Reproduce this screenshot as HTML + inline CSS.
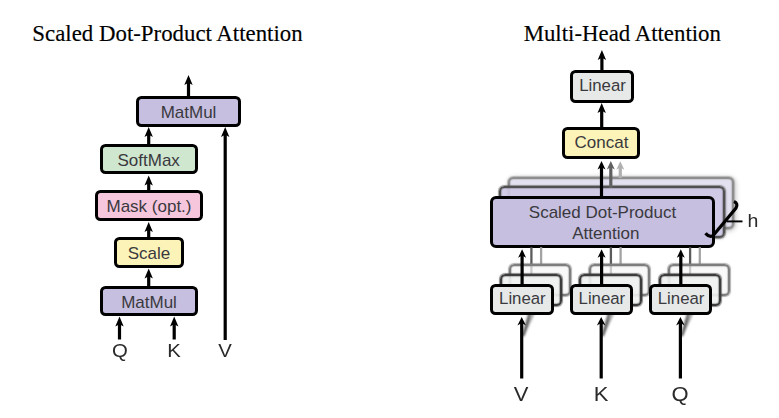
<!DOCTYPE html>
<html><head><meta charset="utf-8"><style>
html,body{margin:0;padding:0;background:#fff;width:779px;height:418px;overflow:hidden;position:relative}
</style></head><body>
<div style="position:absolute;left:-132.50px;width:600px;text-align:center;top:23.36px;font-family:'Liberation Serif',serif;font-size:22.85px;line-height:22.85px;color:#000;white-space:nowrap;-webkit-text-stroke:0.15px #000;">Scaled Dot-Product Attention</div>
<div style="position:absolute;left:322.30px;width:600px;text-align:center;top:22.86px;font-family:'Liberation Serif',serif;font-size:22.85px;line-height:22.85px;color:#000;white-space:nowrap;-webkit-text-stroke:0.15px #000;">Multi-Head Attention</div>
<div style="position:absolute;left:136px;top:95.8px;width:105.00px;height:31.00px;box-sizing:border-box;border:3.2px solid #000;border-radius:5.5px;background:#c6bfe0;"></div>
<div style="position:absolute;left:-111.50px;width:600px;text-align:center;top:103.61px;font-family:'Liberation Sans',sans-serif;font-size:17px;line-height:17px;color:#3a393e;white-space:nowrap;">MatMul</div>
<div style="position:absolute;left:100px;top:144.0px;width:97.50px;height:30.40px;box-sizing:border-box;border:3.2px solid #000;border-radius:5.5px;background:#cfe6cf;"></div>
<div style="position:absolute;left:-151.30px;width:600px;text-align:center;top:151.91px;font-family:'Liberation Sans',sans-serif;font-size:17px;line-height:17px;color:#3a393e;white-space:nowrap;">SoftMax</div>
<div style="position:absolute;left:95.3px;top:190.3px;width:107.40px;height:31.10px;box-sizing:border-box;border:3.2px solid #000;border-radius:5.5px;background:#f5c6dc;"></div>
<div style="position:absolute;left:-151.00px;width:600px;text-align:center;top:198.21px;font-family:'Liberation Sans',sans-serif;font-size:17px;line-height:17px;color:#3a393e;white-space:nowrap;">Mask (opt.)</div>
<div style="position:absolute;left:113.8px;top:237.0px;width:70.00px;height:31.40px;box-sizing:border-box;border:3.2px solid #000;border-radius:5.5px;background:#fbf3b8;"></div>
<div style="position:absolute;left:-151.10px;width:600px;text-align:center;top:245.11px;font-family:'Liberation Sans',sans-serif;font-size:17px;line-height:17px;color:#3a393e;white-space:nowrap;">Scale</div>
<div style="position:absolute;left:100px;top:285.7px;width:97.50px;height:30.60px;box-sizing:border-box;border:3.2px solid #000;border-radius:5.5px;background:#c6bfe0;"></div>
<div style="position:absolute;left:-151.00px;width:600px;text-align:center;top:293.61px;font-family:'Liberation Sans',sans-serif;font-size:17px;line-height:17px;color:#3a393e;white-space:nowrap;">MatMul</div>
<svg width="779" height="418" style="position:absolute;left:0;top:0;"><line x1="188.5" y1="82.2" x2="188.5" y2="97" stroke="#000" stroke-width="3.2"/><path d="M188.5 75 L192.7 85 L188.5 82.7 L184.3 85 Z" fill="#000"/><line x1="148.7" y1="134.2" x2="148.7" y2="145" stroke="#000" stroke-width="3.2"/><path d="M148.7 127 L152.89999999999998 137 L148.7 134.7 L144.5 137 Z" fill="#000"/><line x1="148.7" y1="182.7" x2="148.7" y2="192" stroke="#000" stroke-width="3.2"/><path d="M148.7 175.5 L152.89999999999998 185.5 L148.7 183.2 L144.5 185.5 Z" fill="#000"/><line x1="148.7" y1="229.2" x2="148.7" y2="239" stroke="#000" stroke-width="3.2"/><path d="M148.7 222 L152.89999999999998 232 L148.7 229.7 L144.5 232 Z" fill="#000"/><line x1="148.7" y1="275.7" x2="148.7" y2="287" stroke="#000" stroke-width="3.2"/><path d="M148.7 268.5 L152.89999999999998 278.5 L148.7 276.2 L144.5 278.5 Z" fill="#000"/><line x1="119.5" y1="323.7" x2="119.5" y2="339.5" stroke="#000" stroke-width="3.2"/><path d="M119.5 316.5 L123.7 326.5 L119.5 324.2 L115.3 326.5 Z" fill="#000"/><line x1="174.2" y1="323.7" x2="174.2" y2="339.5" stroke="#000" stroke-width="3.2"/><path d="M174.2 316.5 L178.39999999999998 326.5 L174.2 324.2 L170.0 326.5 Z" fill="#000"/><line x1="225.2" y1="134.2" x2="225.2" y2="340" stroke="#000" stroke-width="3.2"/><path d="M225.2 127 L229.39999999999998 137 L225.2 134.7 L221.0 137 Z" fill="#000"/></svg>
<div style="position:absolute;left:-180.20px;width:600px;text-align:center;top:341.84px;font-family:'Liberation Sans',sans-serif;font-size:18.5px;line-height:18.5px;color:#3a393e;white-space:nowrap;color:#2a2a2a;transform:scaleX(1.1);">Q</div>
<div style="position:absolute;left:-125.60px;width:600px;text-align:center;top:341.84px;font-family:'Liberation Sans',sans-serif;font-size:18.5px;line-height:18.5px;color:#3a393e;white-space:nowrap;color:#2a2a2a;transform:scaleX(1.1);">K</div>
<div style="position:absolute;left:-74.70px;width:600px;text-align:center;top:341.84px;font-family:'Liberation Sans',sans-serif;font-size:18.5px;line-height:18.5px;color:#3a393e;white-space:nowrap;color:#2a2a2a;transform:scaleX(1.1);">V</div>
<div style="position:absolute;left:569.7px;top:70.2px;width:64.30px;height:33.10px;box-sizing:border-box;border:3.2px solid #000;border-radius:5.5px;background:#e6e9e8;"></div>
<div style="position:absolute;left:302.50px;width:600px;text-align:center;top:78.28px;font-family:'Liberation Sans',sans-serif;font-size:16.8px;line-height:16.8px;color:#3a393e;white-space:nowrap;">Linear</div>
<div style="position:absolute;left:562.4px;top:127.3px;width:77.80px;height:32.00px;box-sizing:border-box;border:3.2px solid #000;border-radius:5.5px;background:#fbf3b8;"></div>
<div style="position:absolute;left:301.50px;width:600px;text-align:center;top:134.41px;font-family:'Liberation Sans',sans-serif;font-size:17px;line-height:17px;color:#3a393e;white-space:nowrap;">Concat</div>
<svg width="779" height="418" style="position:absolute;left:0;top:0;"><line x1="601.9" y1="57.2" x2="601.9" y2="71" stroke="#000" stroke-width="3.2"/><path d="M601.9 50 L606.1 60 L601.9 57.7 L597.6999999999999 60 Z" fill="#000"/></svg>
<svg width="779" height="418" style="position:absolute;left:0;top:0;"><line x1="601.7" y1="110.2" x2="601.7" y2="128" stroke="#000" stroke-width="3.2"/><path d="M601.7 103 L605.9000000000001 113 L601.7 110.7 L597.5 113 Z" fill="#000"/></svg>
<div style="position:absolute;left:508px;top:176.8px;width:226.2px;height:52.2px;border-radius:6px;box-shadow:1px 1px 5px 1px rgba(0,0,0,.22);"></div>
<div style="position:absolute;left:508.00px;top:176.80px;width:226.20px;height:52.20px;box-sizing:border-box;border:2.2px solid #8e8e8e;border-radius:5.5px;background:#e3e0ef;box-shadow:0 0 1px 0.6px rgba(142,142,142,0.55), inset 0 0 1px 0.6px rgba(142,142,142,0.55);"></div>
<svg width="779" height="418" style="position:absolute;left:0;top:0;"><line x1="620.3" y1="167.0" x2="620.3" y2="178" stroke="#b0b0b0" stroke-width="3.2"/><path d="M620.3 161.3 L624.3 169.8 L620.3 167.5 L616.3 169.8 Z" fill="#b0b0b0"/></svg>
<div style="position:absolute;left:498.8px;top:185.9px;width:226.2px;height:51.7px;border-radius:6px;box-shadow:1px 1px 3px rgba(0,0,0,.2);"></div>
<div style="position:absolute;left:498.80px;top:185.90px;width:226.20px;height:51.70px;box-sizing:border-box;border:2.4px solid #505050;border-radius:5.5px;background:rgba(206,200,229,0.9);box-shadow:0 0 1px 0.6px rgba(80,80,80,0.55), inset 0 0 1px 0.6px rgba(80,80,80,0.55);"></div>
<svg width="779" height="418" style="position:absolute;left:0;top:0;"><line x1="610.8" y1="166.7" x2="610.8" y2="188" stroke="#606060" stroke-width="3.2"/><path d="M610.8 161 L614.8 169.5 L610.8 167.2 L606.8 169.5 Z" fill="#606060"/></svg>
<div style="position:absolute;left:489.6px;top:195.8px;width:225.60px;height:52.10px;box-sizing:border-box;border:3.2px solid #000;border-radius:6px;background:#c6bfe0;"></div>
<svg width="779" height="418" style="position:absolute;left:0;top:0;"><line x1="601.5" y1="166.7" x2="601.5" y2="197" stroke="#000" stroke-width="3.2"/><path d="M601.5 161 L605.5 169.5 L601.5 167.2 L597.5 169.5 Z" fill="#000"/></svg>
<div style="position:absolute;left:302.50px;width:600px;text-align:center;top:203.61px;font-family:'Liberation Sans',sans-serif;font-size:17px;line-height:17px;color:#3a393e;white-space:nowrap;">Scaled Dot-Product</div>
<div style="position:absolute;left:305.80px;width:600px;text-align:center;top:224.61px;font-family:'Liberation Sans',sans-serif;font-size:17px;line-height:17px;color:#3a393e;white-space:nowrap;">Attention</div>
<svg width="779" height="418" style="position:absolute;left:0;top:0;opacity:0.9;"><line x1="541.1" y1="247" x2="541.1" y2="266" stroke="#9a9a9a" stroke-width="2.3"/><line x1="531.4" y1="247" x2="531.4" y2="275" stroke="#4a4a4a" stroke-width="2.3"/></svg>
<div style="position:absolute;left:509.40px;top:264.30px;width:61.50px;height:31.90px;box-sizing:border-box;border:2.2px solid #7e7e7e;border-radius:5.5px;background:rgba(246,247,247,0.72);box-shadow:0 0 1px 0.6px rgba(126,126,126,0.6), inset 0 0 1px 0.6px rgba(126,126,126,0.6);"></div>
<div style="position:absolute;left:499.90px;top:273.50px;width:62.40px;height:32.00px;box-sizing:border-box;border:2.4px solid #3c3c3c;border-radius:5.5px;background:rgba(238,240,239,0.9);box-shadow:0 0 1px 0.6px rgba(60,60,60,0.6), inset 0 0 1px 0.6px rgba(60,60,60,0.6);"></div>
<svg width="779" height="418" style="position:absolute;left:0;top:0;filter:blur(0.8px);"><line x1="523.1" y1="336" x2="541.1" y2="296" stroke="#a0a0a0" stroke-width="2.4"/><line x1="523.1" y1="336" x2="532.1" y2="305" stroke="#505050" stroke-width="2.4"/></svg>
<div style="position:absolute;left:490.1px;top:283.8px;width:63.50px;height:31.40px;box-sizing:border-box;border:3.2px solid #000;border-radius:5.5px;background:#e6e9e8;"></div>
<div style="position:absolute;left:222.40px;width:600px;text-align:center;top:291.38px;font-family:'Liberation Sans',sans-serif;font-size:16.8px;line-height:16.8px;color:#3a393e;white-space:nowrap;">Linear</div>
<svg width="779" height="418" style="position:absolute;left:0;top:0;"><line x1="522.1" y1="255.0" x2="522.1" y2="284" stroke="#000" stroke-width="3.2"/><path d="M522.1 249.3 L526.1 257.8 L522.1 255.5 L518.1 257.8 Z" fill="#000"/><line x1="521.7" y1="322.5" x2="521.7" y2="378.5" stroke="#000" stroke-width="3.2"/><path d="M521.7 317 L526.0 325.5 L521.7 323.0 L517.4000000000001 325.5 Z" fill="#000"/></svg>
<div style="position:absolute;left:221.20px;width:600px;text-align:center;top:383.57px;font-family:'Liberation Sans',sans-serif;font-size:20px;line-height:20px;color:#3a393e;white-space:nowrap;color:#2a2a2a;transform:scaleX(1.1);">V</div>
<svg width="779" height="418" style="position:absolute;left:0;top:0;opacity:0.9;"><line x1="620.6" y1="247" x2="620.6" y2="266" stroke="#9a9a9a" stroke-width="2.3"/><line x1="610.9" y1="247" x2="610.9" y2="275" stroke="#4a4a4a" stroke-width="2.3"/></svg>
<div style="position:absolute;left:588.90px;top:264.30px;width:61.50px;height:31.90px;box-sizing:border-box;border:2.2px solid #7e7e7e;border-radius:5.5px;background:rgba(246,247,247,0.72);box-shadow:0 0 1px 0.6px rgba(126,126,126,0.6), inset 0 0 1px 0.6px rgba(126,126,126,0.6);"></div>
<div style="position:absolute;left:579.40px;top:273.50px;width:62.40px;height:32.00px;box-sizing:border-box;border:2.4px solid #3c3c3c;border-radius:5.5px;background:rgba(238,240,239,0.9);box-shadow:0 0 1px 0.6px rgba(60,60,60,0.6), inset 0 0 1px 0.6px rgba(60,60,60,0.6);"></div>
<svg width="779" height="418" style="position:absolute;left:0;top:0;filter:blur(0.8px);"><line x1="602.6" y1="336" x2="620.6" y2="296" stroke="#a0a0a0" stroke-width="2.4"/><line x1="602.6" y1="336" x2="611.6" y2="305" stroke="#505050" stroke-width="2.4"/></svg>
<div style="position:absolute;left:569.6px;top:283.8px;width:63.50px;height:31.40px;box-sizing:border-box;border:3.2px solid #000;border-radius:5.5px;background:#e6e9e8;"></div>
<div style="position:absolute;left:301.90px;width:600px;text-align:center;top:291.38px;font-family:'Liberation Sans',sans-serif;font-size:16.8px;line-height:16.8px;color:#3a393e;white-space:nowrap;">Linear</div>
<svg width="779" height="418" style="position:absolute;left:0;top:0;"><line x1="601.6" y1="255.0" x2="601.6" y2="284" stroke="#000" stroke-width="3.2"/><path d="M601.6 249.3 L605.6 257.8 L601.6 255.5 L597.6 257.8 Z" fill="#000"/><line x1="601.2" y1="322.5" x2="601.2" y2="378.5" stroke="#000" stroke-width="3.2"/><path d="M601.2 317 L605.5 325.5 L601.2 323.0 L596.9000000000001 325.5 Z" fill="#000"/></svg>
<div style="position:absolute;left:301.30px;width:600px;text-align:center;top:383.57px;font-family:'Liberation Sans',sans-serif;font-size:20px;line-height:20px;color:#3a393e;white-space:nowrap;color:#2a2a2a;transform:scaleX(1.1);">K</div>
<svg width="779" height="418" style="position:absolute;left:0;top:0;opacity:0.9;"><line x1="699.8" y1="247" x2="699.8" y2="266" stroke="#9a9a9a" stroke-width="2.3"/><line x1="690.0999999999999" y1="247" x2="690.0999999999999" y2="275" stroke="#4a4a4a" stroke-width="2.3"/></svg>
<div style="position:absolute;left:668.10px;top:264.30px;width:61.50px;height:31.90px;box-sizing:border-box;border:2.2px solid #7e7e7e;border-radius:5.5px;background:rgba(246,247,247,0.72);box-shadow:0 0 1px 0.6px rgba(126,126,126,0.6), inset 0 0 1px 0.6px rgba(126,126,126,0.6);"></div>
<div style="position:absolute;left:658.60px;top:273.50px;width:62.40px;height:32.00px;box-sizing:border-box;border:2.4px solid #3c3c3c;border-radius:5.5px;background:rgba(238,240,239,0.9);box-shadow:0 0 1px 0.6px rgba(60,60,60,0.6), inset 0 0 1px 0.6px rgba(60,60,60,0.6);"></div>
<svg width="779" height="418" style="position:absolute;left:0;top:0;filter:blur(0.8px);"><line x1="681.8" y1="336" x2="699.8" y2="296" stroke="#a0a0a0" stroke-width="2.4"/><line x1="681.8" y1="336" x2="690.8" y2="305" stroke="#505050" stroke-width="2.4"/></svg>
<div style="position:absolute;left:648.8px;top:283.8px;width:63.50px;height:31.40px;box-sizing:border-box;border:3.2px solid #000;border-radius:5.5px;background:#e6e9e8;"></div>
<div style="position:absolute;left:381.10px;width:600px;text-align:center;top:291.38px;font-family:'Liberation Sans',sans-serif;font-size:16.8px;line-height:16.8px;color:#3a393e;white-space:nowrap;">Linear</div>
<svg width="779" height="418" style="position:absolute;left:0;top:0;"><line x1="680.8" y1="255.0" x2="680.8" y2="284" stroke="#000" stroke-width="3.2"/><path d="M680.8 249.3 L684.8 257.8 L680.8 255.5 L676.8 257.8 Z" fill="#000"/><line x1="680.4" y1="322.5" x2="680.4" y2="378.5" stroke="#000" stroke-width="3.2"/><path d="M680.4 317 L684.6999999999999 325.5 L680.4 323.0 L676.1 325.5 Z" fill="#000"/></svg>
<div style="position:absolute;left:380.40px;width:600px;text-align:center;top:383.57px;font-family:'Liberation Sans',sans-serif;font-size:20px;line-height:20px;color:#3a393e;white-space:nowrap;color:#2a2a2a;transform:scaleX(1.1);">Q</div>
<svg width="779" height="418" style="position:absolute;left:0;top:0;"><path d="M705.5 233.3 Q709 237.5 713 235.8 L736 208 Q738.5 203.5 734 201.5" fill="none" stroke="#000" stroke-width="3.2"/><line x1="726.8" y1="221.4" x2="742.5" y2="221.4" stroke="#000" stroke-width="1.9"/></svg>
<div style="position:absolute;left:452.50px;width:600px;text-align:center;top:213.23px;font-family:'Liberation Sans',sans-serif;font-size:17.8px;line-height:17.8px;color:#3a393e;white-space:nowrap;transform:scaleX(1.1);color:#2a2a2a">h</div>
</body></html>
